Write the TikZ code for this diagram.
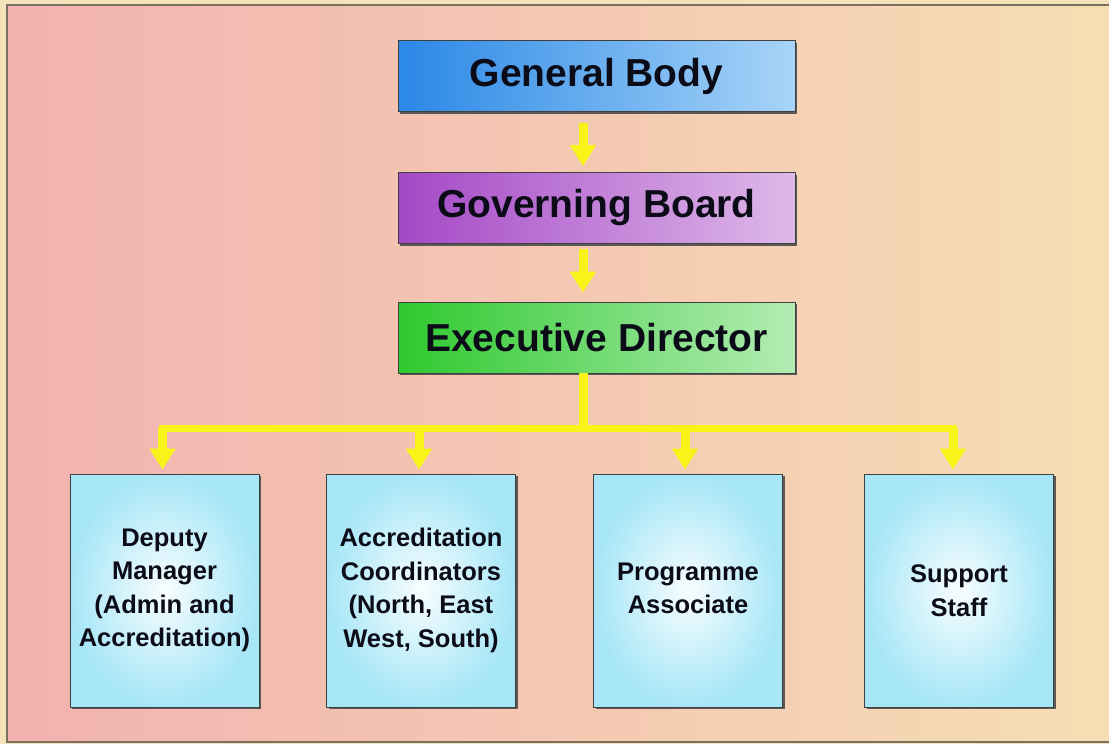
\documentclass[tikz,border=0pt]{standalone}
\usepackage{fontspec}
\setmainfont{Liberation Sans}
\usetikzlibrary{arrows.meta,shadows,calc}
\definecolor{margin}{HTML}{F3E2BA}
\definecolor{bgL}{HTML}{F2B2B0}
\definecolor{bgR}{HTML}{F6DEB4}
\definecolor{frameC}{HTML}{7A7060}
\definecolor{yel}{HTML}{F8F41A}
\definecolor{blueL}{HTML}{2A88E6}
\definecolor{blueR}{HTML}{A8D4F8}
\definecolor{purL}{HTML}{A448C6}
\definecolor{purR}{HTML}{DFB9E9}
\definecolor{grnL}{HTML}{2FC92F}
\definecolor{grnR}{HTML}{B4ECB4}
\definecolor{cyanbox}{HTML}{A6E6F7}
\definecolor{txt}{HTML}{0C0C18}
\tikzset{
  topbox/.style={draw=black!75, line width=0.9pt, minimum width=397pt, minimum height=71pt,
    inner sep=0pt, text=txt, font=\fontsize{39}{39}\selectfont\bfseries,
    drop shadow={shadow xshift=2pt, shadow yshift=-2pt, fill=black!70, opacity=0.9}},
  lowbox/.style={draw=black!75, line width=0.9pt, minimum width=189pt, minimum height=233pt,
    inner sep=0pt, text=txt, align=center, font=\fontsize{25.5}{33.5}\selectfont\bfseries,
    shading=radial, inner color=white!92!cyanbox, outer color=cyanbox,
    drop shadow={shadow xshift=2pt, shadow yshift=-2pt, fill=black!70, opacity=0.9}},
  yarrow/.style={draw=yel, line width=9pt, -{Triangle[width=25pt,length=21pt]}},
  ybar/.style={draw=yel, line width=7pt, line cap=rect}
}
\begin{document}
\begin{tikzpicture}[x=1pt,y=-1pt]
\useasboundingbox (0,0) rectangle (1109,744);
\fill[margin] (0,0) rectangle (1109,744);
\shade[left color=bgL, right color=bgR] (7,5) rectangle (1109,742);
\draw[frameC, line width=1.6pt] (1109,5) -- (7,5) -- (7,742) -- (1109,742);

\node[topbox, left color=blueL, right color=blueR] (gb) at (596.5,76) {General Body};
\node[topbox, left color=purL, right color=purR] (gov) at (596.5,208) {Governing Board};
\node[topbox, left color=grnL, right color=grnR] (ed) at (596.5,337.5) {Executive Director};

\coordinate (sp) at (583,0);
\coordinate (bar) at (583,428);

\node[lowbox] (b1) at (164.5,590.5) {Deputy\\Manager\\(Admin and\\Accreditation)};
\node[lowbox] (b2) at (421,590.5) {Accreditation\\Coordinators\\(North, East\\West, South)};
\node[lowbox] (b3) at (688,590.5) {\raisebox{8pt}{\begin{tabular}{@{}c@{}}Programme\\Associate\end{tabular}}};
\node[lowbox] (b4) at (959,590.5) {Support\\Staff};

\draw[yarrow, shorten <=11pt, shorten >=6pt] (gb.south -| sp) -- (gov.north -| sp);
\draw[yarrow, shorten <=5pt, shorten >=9pt] (gov.south -| sp) -- (ed.north -| sp);

\draw[draw=yel, line width=9pt] (ed.south -| sp) -- (bar);
\draw[ybar] ($(b1.north |- bar)+(-2,0)$) -- ($(b4.north |- bar)+(-6,0)$);
\draw[yarrow, shorten >=4pt] ($(b1.north |- bar)+(-2,0)$) -- ($(b1.north)+(-2,0)$);
\draw[yarrow, shorten >=4pt] ($(b2.north |- bar)+(-2,0)$) -- ($(b2.north)+(-2,0)$);
\draw[yarrow, shorten >=4pt] ($(b3.north |- bar)+(-3,0)$) -- ($(b3.north)+(-3,0)$);
\draw[yarrow, shorten >=4pt] ($(b4.north |- bar)+(-6,0)$) -- ($(b4.north)+(-6,0)$);
\end{tikzpicture}
\end{document}
